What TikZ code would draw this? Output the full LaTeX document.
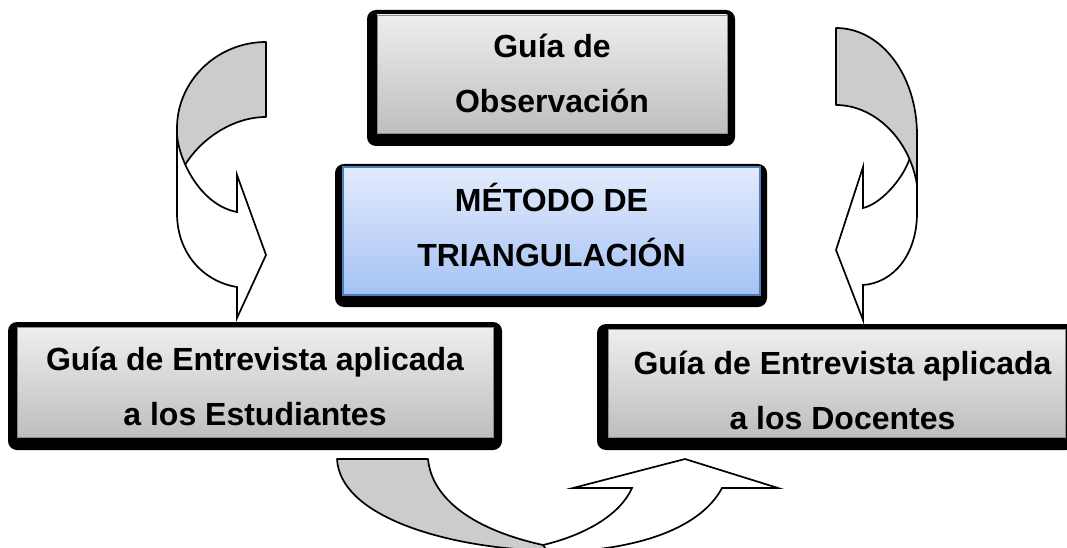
\documentclass[tikz,border=0pt]{standalone}
\usepackage{fontspec}
\setmainfont{Liberation Sans}
\definecolor{graytop}{HTML}{EEEEEE}
\definecolor{graybot}{HTML}{BEBEBE}
\definecolor{grayline}{HTML}{8C8C8C}
\definecolor{bluetop}{HTML}{E3EBFC}
\definecolor{bluebot}{HTML}{A5C2F5}
\definecolor{blueline}{HTML}{4A7EBB}
\definecolor{arrowgray}{HTML}{CCCCCC}
\begin{document}
\begin{tikzpicture}[x=1pt, y=-1pt,
    shadowbox/.style={fill=black, rounded corners=9pt, inner sep=0pt},
    graybox/.style={top color=graytop, bottom color=graybot, draw=grayline, line width=0.8pt, inner sep=0pt},
    bluebox/.style={top color=bluetop, bottom color=bluebot, draw=blueline, line width=1.5pt, inner sep=0pt},
    boxtext/.style={font=\bfseries\fontsize{32}{55}\selectfont, align=center},
    arrowback/.style={fill=arrowgray, draw=black, line width=1.7pt, line join=round},
    arrowfront/.style={fill=white, draw=black, line width=1.7pt, line join=miter}]
    \useasboundingbox (0,0) rectangle (1067,548);

    % left curved arrow
    \draw[arrowback] (266,42) .. controls (217,42) and (177,81) .. (177,128) -- (177,175) -- (185,165)
        .. controls (200,140) and (232,117) .. (266,117) -- cycle;
    \draw[arrowfront] (177,135) -- (177,213) .. controls (177,255) and (205,282) .. (237,287)
        -- (237,318) -- (266,255) -- (237,175) -- (237,212) .. controls (200,205) and (179,160) .. (177,135) -- cycle;

    % right curved arrow
    \draw[arrowfront] (917,140) -- (917,213) .. controls (917,255) and (893,283) .. (863,285)
        -- (863,320) -- (836,250) -- (863,167) -- (863,208) .. controls (880,204) and (900,182) .. (908,163) -- cycle;
    \draw[arrowback] (836,28) .. controls (881,28) and (917,75) .. (917,135) -- (917,185)
        .. controls (910,140) and (875,105) .. (836,105) -- cycle;

    % bottom curved arrow
    \draw[arrowback] (337,459) -- (428,459) .. controls (432,500) and (475,530) .. (543,545)
        -- (550,552) -- (530,550) .. controls (440,545) and (340,515) .. (337,459) -- cycle;
    \draw[arrowfront] (543,545) .. controls (585,535) and (620,515) .. (632,488) -- (573,488) -- (685,459)
        -- (778,488) -- (722,488) .. controls (705,520) and (660,543) .. (590,550) -- (548,552) -- cycle;

    % observation guide
    \node[shadowbox, minimum width=368pt, minimum height=136pt] (obsS) at (551,78) {};
    \node[graybox, minimum width=350pt, minimum height=118pt] (obs) at (552,74) {};
    \node[boxtext] (obsT) at ([yshift=1pt]obs.center) {Guía de\\Observación};

    % method
    \node[shadowbox, minimum width=432pt, minimum height=143pt] (metS) at (551,235.5) {};
    \node[bluebox, minimum width=417pt, minimum height=128pt] (met) at (551.5,231) {};
    \node[boxtext] (metT) at ([yshift=6pt]met.center) {MÉTODO DE\\TRIANGULACIÓN};

    % students interview
    \node[shadowbox, minimum width=494pt, minimum height=128pt] (stuS) at (255,386) {};
    \node[graybox, minimum width=476pt, minimum height=110pt] (stu) at (255,382) {};
    \node[boxtext] (stuT) at ([yshift=-4pt]stu.center) {Guía de Entrevista aplicada\\a los Estudiantes};

    % teachers interview
    \node[shadowbox, minimum width=478pt, minimum height=126pt] (docS) at (836,387) {};
    \node[graybox, minimum width=457pt, minimum height=108pt] (doc) at (836.5,383) {};
    \node[boxtext] (docT) at ([xshift=6pt,yshift=-7pt]doc.center) {Guía de Entrevista aplicada\\a los Docentes};
\end{tikzpicture}
\end{document}
